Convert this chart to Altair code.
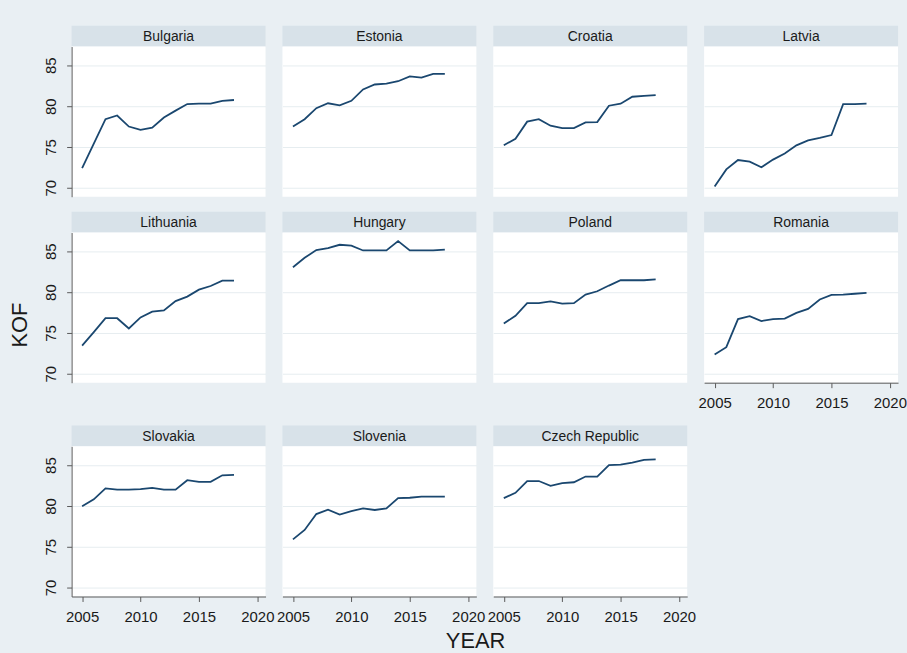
import altair as alt
import pandas as pd

# KOF globalisation index, 2005-2018, for eleven EU member states
years = list(range(2005, 2019))

bulgaria = [72.4, 75.4, 78.4, 78.85, 77.5, 77.1, 77.35, 78.6, 79.45, 80.25, 80.3, 80.3, 80.65, 80.75]
estonia = [77.5, 78.4, 79.75, 80.35, 80.1, 80.65, 82.05, 82.65, 82.75, 83.05, 83.65, 83.5, 83.95, 83.95]
croatia = [75.2, 76.0, 78.1, 78.4, 77.6, 77.3, 77.3, 78.0, 78.05, 80.05, 80.3, 81.15, 81.25, 81.35]
latvia = [70.15, 72.25, 73.4, 73.2, 72.5, 73.45, 74.2, 75.2, 75.8, 76.1, 76.45, 80.25, 80.25, 80.3]
lithuania = [73.45, 75.1, 76.8, 76.8, 75.55, 76.9, 77.6, 77.75, 78.9, 79.45, 80.3, 80.75, 81.4, 81.4]
hungary = [83.05, 84.2, 85.15, 85.4, 85.8, 85.7, 85.1, 85.1, 85.1, 86.25, 85.1, 85.1, 85.1, 85.2]
poland = [76.15, 77.1, 78.65, 78.65, 78.85, 78.6, 78.65, 79.7, 80.1, 80.8, 81.45, 81.45, 81.45, 81.55]
romania = [72.35, 73.25, 76.7, 77.05, 76.45, 76.7, 76.75, 77.45, 77.95, 79.1, 79.65, 79.7, 79.8, 79.9]
slovakia = [79.95, 80.8, 82.15, 82.0, 82.0, 82.05, 82.2, 82.0, 82.0, 83.15, 82.95, 82.95, 83.75, 83.8]
slovenia = [75.9, 77.05, 79.0, 79.55, 78.95, 79.35, 79.7, 79.5, 79.7, 80.95, 81.0, 81.15, 81.15, 81.15]
czech = [80.95, 81.6, 83.05, 83.05, 82.45, 82.8, 82.9, 83.6, 83.6, 85.0, 85.05, 85.3, 85.65, 85.7]

countries = ["Bulgaria", "Estonia", "Croatia", "Latvia",
             "Lithuania", "Hungary", "Poland", "Romania",
             "Slovakia", "Slovenia", "Czech Republic"]
series = [bulgaria, estonia, croatia, latvia, lithuania, hungary,
          poland, romania, slovakia, slovenia, czech]

y_ticks = [70, 75, 80, 85]
x_ticks = [2005, 2010, 2015, 2020]

df = pd.DataFrame(
    [{"country": c, "year": yr, "kof": v}
     for c, vals in zip(countries, series) for yr, v in zip(years, vals)]
)

W, H, HH = 195, 151, 21
NCOL = 4
FONT = "Liberation Sans"
BG = "#e9eff3"
STRIP = "#d8e2e9"
LINE = "#1a476f"
GRID = "#e6edf0"
AXIS = "#5a5a5a"
TEXT = "#1a1a1a"

x_scale = alt.Scale(domain=[2004.1, 2020.7], nice=False, zero=False)
y_scale = alt.Scale(domain=[68.9, 87.3], nice=False, zero=False)


def panel(name, first_col, bottom):
    base = alt.Chart(df).transform_filter(alt.datum.country == name)

    # strip with the country name above each panel
    header = (
        base.transform_filter(alt.datum.year == years[0])
        .mark_text(font=FONT, fontSize=14, color=TEXT, align="center", baseline="middle")
        .encode(text="country:N", x=alt.value(W / 2), y=alt.value(HH / 2 + 1))
        .properties(width=W, height=HH,
                    view=alt.ViewBackground(fill=STRIP, strokeWidth=0))
    )

    if first_col:
        y_axis = alt.Axis(values=y_ticks, title="", grid=True, gridColor=GRID,
                          labelAngle=270, labelAlign="center", labelBaseline="bottom",
                          labelFont=FONT, labelFontSize=15, labelColor=TEXT,
                          labelPadding=8, tickSize=5, tickColor=AXIS, domainColor=AXIS)
    else:
        y_axis = alt.Axis(values=y_ticks, title="", grid=True, gridColor=GRID,
                          labels=False, ticks=False, domain=False)

    if bottom:
        x_axis = alt.Axis(values=x_ticks, title="", grid=False, format="d",
                          labelFont=FONT, labelFontSize=15, labelColor=TEXT,
                          labelFlush=False, labelOverlap=False, labelPadding=8,
                          tickSize=5, tickColor=AXIS, domainColor=AXIS)
    else:
        x_axis = alt.Axis(title="", grid=False, labels=False, ticks=False, domain=False)

    plot = (
        base.mark_line(color=LINE, strokeWidth=1.8)
        .encode(
            x=alt.X("year:Q", scale=x_scale, axis=x_axis),
            y=alt.Y("kof:Q", scale=y_scale, axis=y_axis),
        )
        .properties(width=W, height=H,
                    view=alt.ViewBackground(fill="white", strokeWidth=0))
    )
    return alt.vconcat(header, plot, spacing=0)


n = len(countries)
panels = []
for i, c in enumerate(countries):
    first_col = i % NCOL == 0
    bottom = i + NCOL >= n
    panels.append(panel(c, first_col, bottom))

grid = alt.concat(
    *panels, columns=NCOL, align="each",
    spacing=alt.RowColnumber(row=15, column=1),
).properties(
    title=alt.TitleParams("KOF", orient="left", anchor="middle", font=FONT,
                          fontSize=22, fontWeight="normal", color=TEXT, offset=12)
)

chart = (
    alt.vconcat(grid).properties(
        title=alt.TitleParams("YEAR", orient="bottom", anchor="middle", font=FONT,
                              fontSize=22, fontWeight="normal", color=TEXT,
                              offset=7, dx=18)
    )
    .properties(padding={"left": 9, "top": 24, "right": 0, "bottom": 0})
    .configure(background=BG)
    .configure_view(strokeWidth=0)
)

chart.save("out.html", embed_options={"renderer": "svg", "actions": False})
